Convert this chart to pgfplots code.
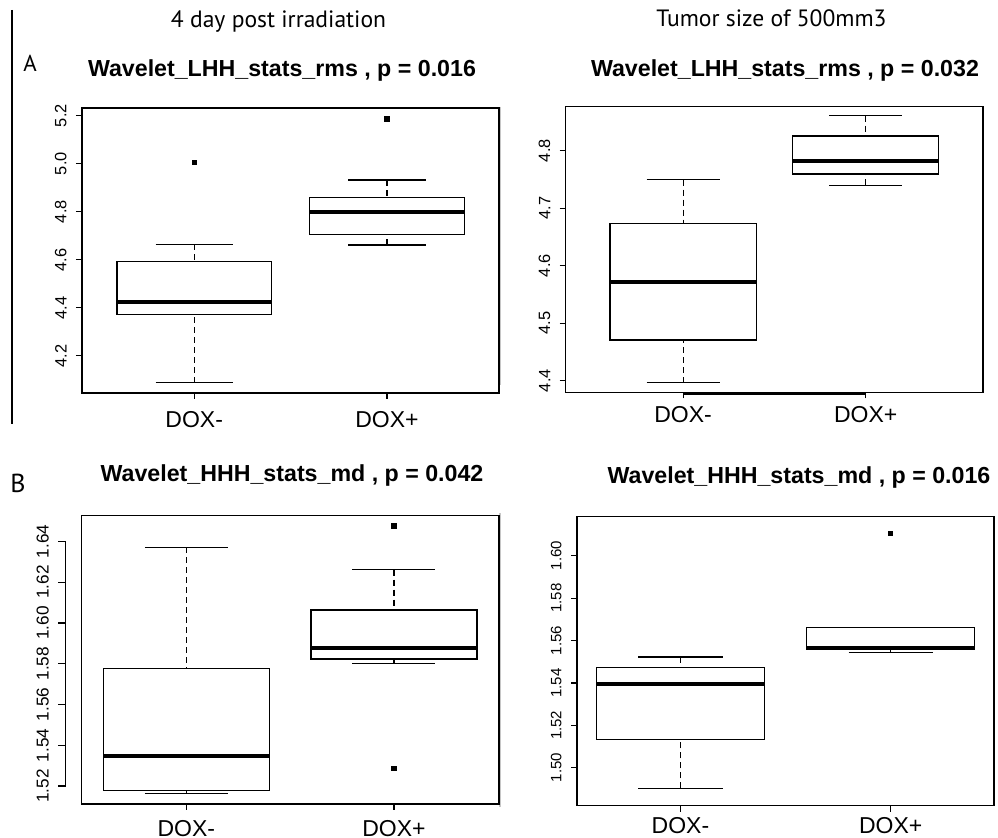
\documentclass[border=0pt]{standalone}
\usepackage{pgfplots}
\pgfplotsset{compat=1.18}
\usepgfplotslibrary{statistics}
\usepackage{fontspec}
\setmainfont{Liberation Sans}
\newfontfamily\hdrfont{PT Sans}
\pgfplotsset{
  rbox/.style={
    scale only axis, clip=false, anchor=south west,
    xtick={1,2}, xticklabels={DOX-,DOX+},
    tick align=outside, major tick length=3pt,
    xtick pos=bottom, ytick pos=left,
    axis line style={line width=0.65pt},
    every tick/.style={black, line width=0.6pt},
    xticklabel style={font=\fontsize{11.5}{12}\selectfont, anchor=north, inner sep=0pt},
    yticklabel style={rotate=90, anchor=south, inner sep=0pt},
    boxplot/draw direction=y,
    boxplot/box extend=0.8,
    boxplot/whisker extend=0.4,
    boxplot/every box/.style={line width=0.6pt},
    boxplot/every median/.style={line width=1.9pt},
    boxplot/draw/lower whisker/.code={
      \draw[line width=0.6pt, dash pattern=on 3pt off 2pt] (boxplot cs:\pgfplotsboxplotvalue{lower whisker}) -- (boxplot cs:\pgfplotsboxplotvalue{lower quartile});
      \draw[line width=0.6pt] (boxplot whisker cs:\pgfplotsboxplotvalue{lower whisker},0) -- (boxplot whisker cs:\pgfplotsboxplotvalue{lower whisker},1);
    },
    boxplot/draw/upper whisker/.code={
      \draw[line width=0.6pt, dash pattern=on 3pt off 2pt] (boxplot cs:\pgfplotsboxplotvalue{upper whisker}) -- (boxplot cs:\pgfplotsboxplotvalue{upper quartile});
      \draw[line width=0.6pt] (boxplot whisker cs:\pgfplotsboxplotvalue{upper whisker},0) -- (boxplot whisker cs:\pgfplotsboxplotvalue{upper whisker},1);
    },
  },
  rb/.style={black, solid, line width=0.6pt, mark=square*, mark size=1pt, mark options={solid, fill=black}},
}
\begin{document}
\begin{tikzpicture}
\useasboundingbox (0,0) rectangle (499pt,419pt);
% headers and panel letters
\node[anchor=base, font=\hdrfont\fontsize{11.8}{12}\selectfont] at (139.25pt,405.4pt) {4 day post irradiation};
\node[anchor=base, font=\hdrfont\fontsize{11.8}{12}\selectfont] at (385.75pt,405.6pt) {Tumor size of 500mm3};
\node[anchor=base, font=\hdrfont\fontsize{11.5}{12}\selectfont] at (15pt,383pt) {A};
\node[anchor=base, font=\hdrfont\fontsize{13}{14}\selectfont] at (9pt,172.5pt) {B};
\draw[line width=0.8pt] (6pt,414pt) -- (6pt,207pt);
\draw[gray!45, line width=0.6pt] (250pt,365.5pt) -- (250pt,226.5pt);
\draw[gray!45, line width=0.6pt] (250pt,162.5pt) -- (250pt,15.5pt);
% titles
\node[anchor=base, font=\bfseries\fontsize{11.6}{12}\selectfont] at (141pt,380.5pt) {Wavelet\_LHH\_stats\_rms , p = 0.016};
\node[anchor=base, font=\bfseries\fontsize{11.6}{12}\selectfont] at (392.5pt,380.6pt) {Wavelet\_LHH\_stats\_rms , p = 0.032};
\node[anchor=base, font=\bfseries\fontsize{11.6}{12}\selectfont] at (146pt,178.2pt) {Wavelet\_HHH\_stats\_md , p = 0.042};
\node[anchor=base, font=\bfseries\fontsize{11.6}{12}\selectfont] at (399.5pt,177.3pt) {Wavelet\_HHH\_stats\_md , p = 0.016};

% Panel 1
\begin{axis}[rbox, at={(41pt,222.5pt)}, width=208.5pt, height=142.5pt,
  xmin=0.418, xmax=2.581, ymin=4.045, ymax=5.232,
  ytick={4.2,4.4,4.6,4.8,5.0,5.2}, yticklabels={4.2,4.4,4.6,4.8,5.0,5.2},
  yticklabel style={font=\fontsize{8.2}{9}\selectfont},
  yticklabel shift=4.5pt, xticklabel shift=6pt]
\addplot[rb, boxplot prepared={draw position=1, lower whisker=4.0875, lower quartile=4.372, median=4.424, upper quartile=4.593, upper whisker=4.664}] table[row sep=\\,y index=0] {data\\ 5.004\\};
\addplot[rb, boxplot prepared={draw position=2, lower whisker=4.661, lower quartile=4.706, median=4.800, upper quartile=4.860, upper whisker=4.932}] table[row sep=\\,y index=0] {data\\ 5.186\\};
\end{axis}

% Panel 2
\begin{axis}[rbox, at={(282.85pt,222.85pt)}, width=208.65pt, height=142.8pt,
  xmin=0.357, xmax=2.642, ymin=4.3798, ymax=4.8765,
  ytick={4.4,4.5,4.6,4.7,4.8}, yticklabels={4.4,4.5,4.6,4.7,4.8},
  yticklabel style={font=\fontsize{8.2}{9}\selectfont},
  yticklabel shift=4.5pt, xticklabel shift=4pt]
\addplot[rb, boxplot prepared={draw position=1, lower whisker=4.3965, lower quartile=4.4708, median=4.5716, upper quartile=4.673, upper whisker=4.7496}] coordinates {};
\addplot[rb, boxplot prepared={draw position=2, lower whisker=4.7398, lower quartile=4.7595, median=4.782, upper quartile=4.8256, upper whisker=4.861}] coordinates {};
\draw[line width=1.3pt] ([yshift=-0.7pt]axis cs:1,4.3798) -- ([yshift=-0.7pt]axis cs:2,4.3798);
\end{axis}

% Panel 3 (box, x axis)
\begin{axis}[rbox, at={(40.85pt,17pt)}, width=208.65pt, height=144.15pt,
  xmin=0.496, xmax=2.506, ymin=1.5112, ymax=1.6526,
  ytick=\empty, xticklabel shift=4.8pt]
\addplot[rb, boxplot prepared={draw position=1, lower whisker=1.5162, lower quartile=1.5177, median=1.5349, upper quartile=1.5775, upper whisker=1.6371}] coordinates {};
\addplot[rb, boxplot prepared={draw position=2, lower whisker=1.5802, lower quartile=1.5823, median=1.5878, upper quartile=1.6063, upper whisker=1.6261}] table[row sep=\\,y index=0] {data\\ 1.6475\\ 1.5285\\};
\end{axis}
% Panel 3 (detached y axis)
\begin{axis}[scale only axis, clip=false, anchor=south west, at={(32.85pt,17pt)}, width=1pt, height=144.15pt,
  xmin=0, xmax=1, ymin=1.5112, ymax=1.6526,
  hide x axis, axis y line*=left, y axis line style={draw=none},
  tick align=outside, major tick length=3.8pt,
  every tick/.style={black, line width=0.6pt},
  ytick={1.52,1.54,1.56,1.58,1.60,1.62,1.64}, yticklabels={1.52,1.54,1.56,1.58,1.60,1.62,1.64},
  yticklabel style={rotate=90, anchor=south, inner sep=0pt, font=\fontsize{8.6}{9}\selectfont},
  yticklabel shift=4.5pt]
\draw[line width=0.6pt] (axis cs:0,1.52) -- (axis cs:0,1.64);
\end{axis}

% Panel 4
\begin{axis}[rbox, at={(288.5pt,16.15pt)}, width=208.5pt, height=144.5pt,
  xmin=0.508, xmax=2.491, ymin=1.4821, ymax=1.6184,
  ytick={1.50,1.52,1.54,1.56,1.58,1.60}, yticklabels={1.50,1.52,1.54,1.56,1.58,1.60},
  yticklabel style={font=\fontsize{7.5}{8}\selectfont},
  yticklabel shift=4.5pt, xticklabel shift=2.5pt]
\addplot[rb, boxplot prepared={draw position=1, lower whisker=1.4903, lower quartile=1.5135, median=1.5395, upper quartile=1.5474, upper whisker=1.5522}] coordinates {};
\addplot[rb, boxplot prepared={draw position=2, lower whisker=1.5544, lower quartile=1.5558, median=1.5566, upper quartile=1.5662, upper whisker=1.5662}] table[row sep=\\,y index=0] {data\\ 1.6106\\};
\end{axis}
\end{tikzpicture}
\end{document}
